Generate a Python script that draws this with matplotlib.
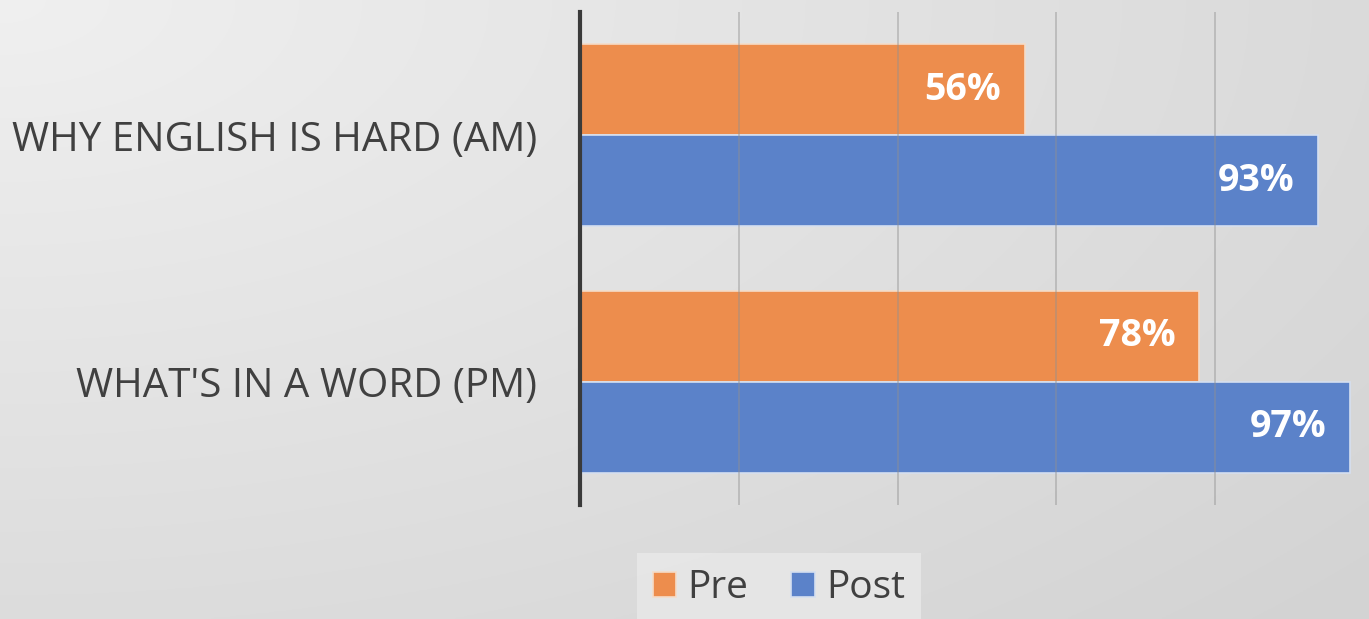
import numpy as np
import matplotlib
matplotlib.use('Agg')
import matplotlib.pyplot as plt

plt.rcParams['font.family'] = ['Open Sans', 'DejaVu Sans']

categories = ["WHY ENGLISH IS HARD (AM)", "WHAT'S IN A WORD (PM)"]
pre = [0.56, 0.78]
post = [0.93, 0.97]
series_names = ['Pre', 'Post']
colors = ['#ED8D4D', '#5B82C9']

fig = plt.figure(figsize=(13.69, 6.19), dpi=100)

# gradient background
bg = fig.add_axes([0, 0, 1, 1], zorder=-10)
yy, xx = np.mgrid[0:1:300j, 0:1:600j]
r = np.sqrt((xx * 1.0) ** 2 + (yy * 0.9) ** 2)
shade = 0.94 - 0.11 * np.clip(r / 1.3, 0, 1)
bg.imshow(np.dstack([shade] * 3), extent=[0, 1, 0, 1], aspect='auto', origin='upper')
bg.axis('off')

ax = fig.add_axes([580 / 1369, 1 - 505 / 619, 1 - 580 / 1369, 493 / 619])
ax.patch.set_alpha(0)

y = np.arange(len(categories))
h = 0.37
bars_pre = ax.barh(y - h / 2, pre, height=h, color=colors[0], edgecolor='#f5dcc8', linewidth=1.2, label=series_names[0])
bars_post = ax.barh(y + h / 2, post, height=h, color=colors[1], edgecolor='#d5dff0', linewidth=1.2, label=series_names[1])

for bars, vals in ((bars_pre, pre), (bars_post, post)):
    for b, v in zip(bars, vals):
        ax.text(b.get_width() - 0.03, b.get_y() + b.get_height() / 2, '{:.0f}%'.format(v * 100),
                ha='right', va='center', color='white', fontsize=27, fontweight='bold')

ax.set_xlim(0, 0.994)
ax.set_ylim(1.5, -0.5)
ax.set_xticks([0.2, 0.4, 0.6, 0.8])
ax.set_xticklabels([])
ax.tick_params(axis='x', length=0)
ax.grid(axis='x', color='#909090', alpha=0.5, linewidth=1.2, zorder=5)
ax.set_axisbelow(False)
for s in ['top', 'right', 'bottom']:
    ax.spines[s].set_visible(False)
ax.spines['left'].set_linewidth(3)
ax.spines['left'].set_color('#3a3a3a')

ax.set_yticks(y)
ax.set_yticklabels(categories, fontsize=29, color='#404040')
ax.tick_params(axis='y', length=0, pad=31)

leg = fig.legend(handles=[bars_pre, bars_post], loc='center', bbox_to_anchor=(779 / 1369, 1 - 588 / 619),
                 ncol=2, frameon=True, fancybox=False, fontsize=28, handlelength=0.6, handleheight=0.6,
                 handletextpad=0.3, columnspacing=1.1, borderpad=0.4)
leg.get_frame().set_facecolor('#e9e9e9')
leg.get_frame().set_edgecolor('none')
leg.get_frame().set_alpha(0.8)
for t in leg.get_texts():
    t.set_color('#404040')

fig.savefig('out.png', dpi=100)
